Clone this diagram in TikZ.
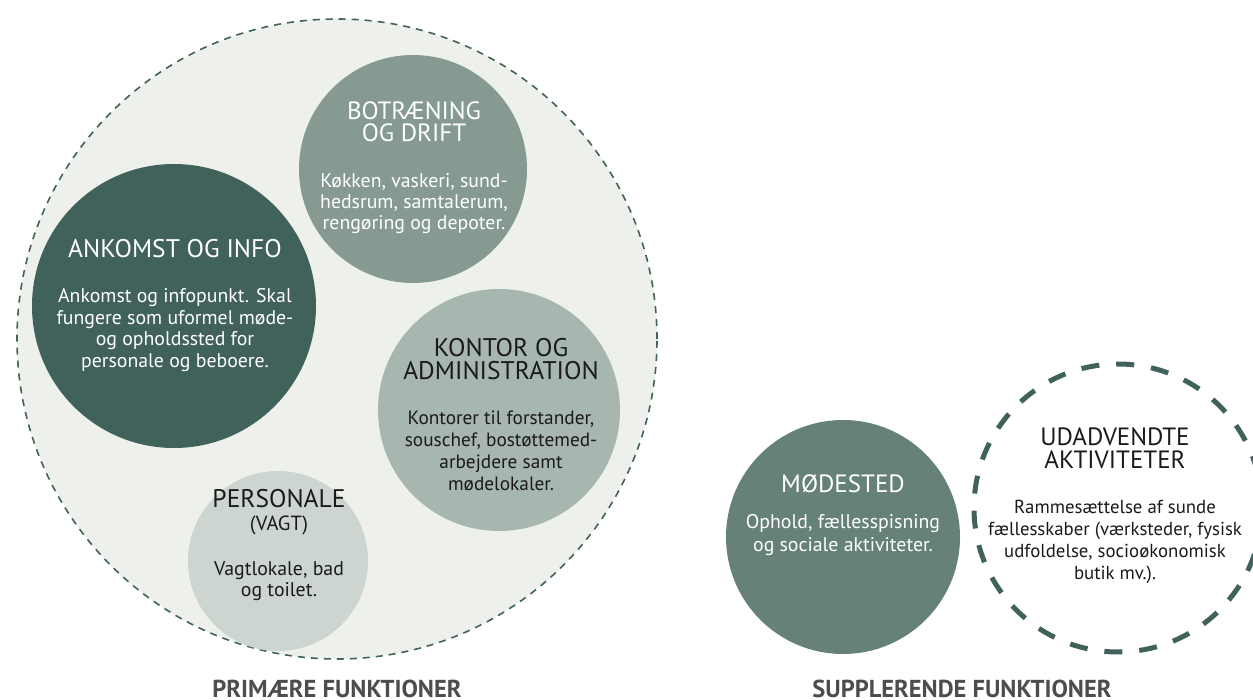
\documentclass[tikz,border=0pt]{standalone}
\usepackage{fontspec}
\setmainfont{PT Sans}
\definecolor{bgc}{HTML}{EEF0EC}
\definecolor{dk}{HTML}{40625A}
\definecolor{cb}{HTML}{869A92}
\definecolor{ck}{HTML}{A7B6AF}
\definecolor{cp}{HTML}{CCD5D0}
\definecolor{cm}{HTML}{668178}
\definecolor{lab}{HTML}{4D4D4D}
\definecolor{ink}{HTML}{1A1A1A}
\begin{document}
\begin{tikzpicture}[x=1pt,y=-1pt,
  circ/.style={circle, inner sep=0pt, minimum size=#1},
  ttl/.style={font=\fontsize{25}{22.5}\selectfont, align=center, anchor=base, inner sep=0pt},
  body/.style={font=\fontsize{19.8}{21.5}\selectfont, align=center, anchor=base, inner sep=0pt},
  lbl/.style={font=\fontsize{24.5}{25}\selectfont\bfseries, text=lab, anchor=base, inner sep=0pt}]
\useasboundingbox (0,0) rectangle (1253,700);
% primary group
\node[circ=640pt, fill=bgc, draw=dk, line width=1.6pt, dash pattern=on 7pt off 6pt] (prim) at (337,339) {};
\node[circ=284pt, fill=dk] (ank) at (174,306) {};
\node[circ=228pt, fill=cb] (bot) at (413,169) {};
\node[circ=242pt, fill=ck] (kon) at (499,410) {};
\node[circ=180pt, fill=cp] (per) at (278,561) {};
% supplementary
\node[circ=234pt, fill=cm] (mod) at (843,537) {};
\node[circ=288pt, draw=dk, line width=5pt, dash pattern=on 18pt off 17pt] (uda) at (1118,508) {};
% texts (anchor = baseline of the last line)
\node[ttl, text=white, font=\fontsize{25.5}{22}\selectfont] (ankt) at (175,258) {ANKOMST OG INFO};
\node[body, text=white] (ankb) at (175,367.5) {Ankomst og infopunkt. Skal\\fungere som uformel møde-\\og opholdssted for\\personale og beboere.};
\node[ttl, text=white] (bott) at (414,142) {BOTRÆNING\\OG DRIFT};
\node[body, text=white, font=\fontsize{19.8}{21}\selectfont] (botb) at (414,230) {Køkken, vaskeri, sund-\\hedsrum, samtalerum,\\rengøring og depoter.};
\node[ttl, text=ink, font=\fontsize{25.5}{23}\selectfont] (kont) at (501,380) {KONTOR OG\\ADMINISTRATION};
\node[body, text=ink, font=\fontsize{19.3}{21.7}\selectfont] (konb) at (501,490) {Kontorer til forstander,\\souschef, bostøttemed-\\arbejdere samt\\mødelokaler.};
\node[ttl, text=ink, font=\fontsize{25.5}{22}\selectfont] (pert) at (279,507) {PERSONALE};
\node[body, text=ink, font=\fontsize{20.5}{21}\selectfont] (pers) at (279,530) {(VAGT)};
\node[body, text=ink, font=\fontsize{19.8}{21}\selectfont] (perb) at (279,596) {Vagtlokale, bad\\og toilet.};
\node[ttl, text=white] (modt) at (843,492) {MØDESTED};
\node[body, text=white, font=\fontsize{19.8}{23}\selectfont] (modb) at (843,551) {Ophold, fællesspisning\\og sociale aktiviteter.};
\node[ttl, text=ink] (udat) at (1115,468) {UDADVENDTE\\AKTIVITETER};
\node[body, text=ink, font=\fontsize{18.8}{22}\selectfont] (udab) at (1115,579) {Rammesættelse af sunde\\fællesskaber (værksteder, fysisk\\udfoldelse, socioøkonomisk\\butik mv.).};
% group labels
\node[lbl] (lp) at (337,697) {PRIMÆRE FUNKTIONER};
\node[lbl] (ls) at (962,697) {SUPPLERENDE FUNKTIONER};
\end{tikzpicture}
\end{document}
